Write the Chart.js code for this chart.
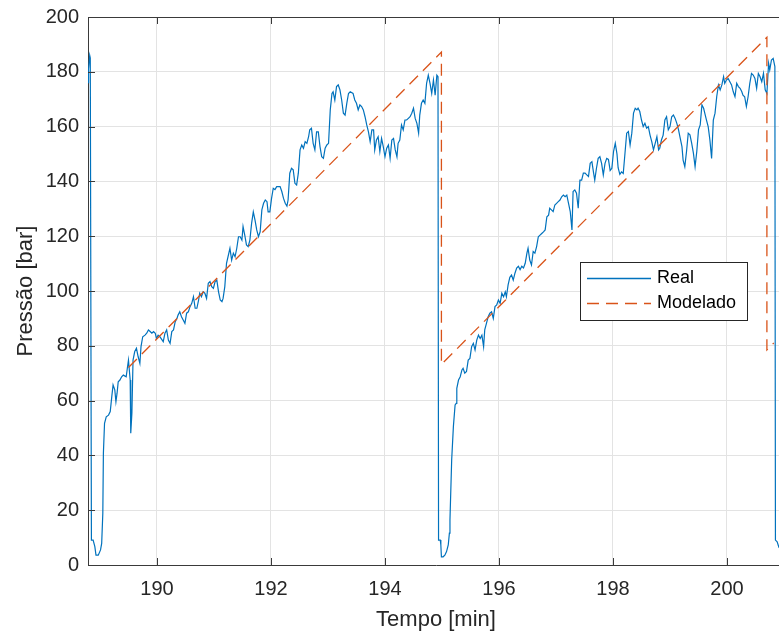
<!DOCTYPE html>
<html>
<head>
<meta charset="utf-8">
<script src="https://cdn.jsdelivr.net/npm/chart.js@4.4.0/dist/chart.umd.min.js"></script>
<style>
html, body { margin: 0; padding: 0; background: #fff; overflow: hidden; }
#wrap { position: relative; width: 790px; height: 633px; }
</style>
</head>
<body>
<div id="wrap"><canvas id="grafico"></canvas></div>
<script>
// medido (Real)
const tempoReal = [
    188.79, 188.80, 188.82, 188.83, 188.85, 188.88, 188.91, 188.93, 188.97, 189.01, 189.03, 189.05, 189.06, 189.08, 189.11,
    189.15, 189.18, 189.21, 189.23, 189.26, 189.28, 189.30, 189.32, 189.35, 189.38, 189.41, 189.46, 189.48, 189.50, 189.53,
    189.54, 189.56, 189.58, 189.61, 189.64, 189.67, 189.70, 189.72, 189.75, 189.79, 189.82, 189.85, 189.88, 189.91, 189.94,
    189.97, 189.99, 190.02, 190.05, 190.11, 190.14, 190.17, 190.20, 190.23, 190.26, 190.29, 190.32, 190.35, 190.37, 190.40,
    190.43, 190.46, 190.49, 190.52, 190.55, 190.58, 190.61, 190.64, 190.67, 190.70, 190.73, 190.75, 190.78, 190.81, 190.84,
    190.87, 190.90, 190.93, 190.96, 190.99, 191.02, 191.05, 191.08, 191.11, 191.14, 191.16, 191.19, 191.22, 191.28, 191.31,
    191.34, 191.37, 191.40, 191.43, 191.46, 191.49, 191.51, 191.54, 191.57, 191.60, 191.63, 191.66, 191.69, 191.72, 191.75,
    191.78, 191.81, 191.84, 191.87, 191.90, 191.93, 191.95, 191.98, 192.01, 192.04, 192.07, 192.10, 192.16, 192.19, 192.22,
    192.25, 192.28, 192.30, 192.33, 192.36, 192.39, 192.42, 192.45, 192.48, 192.51, 192.54, 192.57, 192.60, 192.63, 192.66,
    192.68, 192.71, 192.74, 192.77, 192.80, 192.83, 192.86, 192.89, 192.92, 192.95, 192.98, 193.01, 193.04, 193.07, 193.09,
    193.12, 193.15, 193.18, 193.21, 193.24, 193.27, 193.30, 193.33, 193.36, 193.39, 193.44, 193.47, 193.50, 193.53, 193.56,
    193.59, 193.62, 193.65, 193.68, 193.71, 193.74, 193.77, 193.80, 193.82, 193.85, 193.88, 193.91, 193.94, 193.97, 194.00,
    194.03, 194.06, 194.09, 194.12, 194.15, 194.18, 194.21, 194.23, 194.26, 194.29, 194.32, 194.35, 194.38, 194.41, 194.44,
    194.47, 194.50, 194.53, 194.56, 194.59, 194.61, 194.64, 194.67, 194.70, 194.73, 194.76, 194.79, 194.82, 194.85, 194.88,
    194.91, 194.93, 194.94, 194.97, 194.98, 194.99, 195.02, 195.05, 195.08, 195.11, 195.13, 195.14, 195.17, 195.20, 195.23,
    195.25, 195.26, 195.29, 195.32, 195.35, 195.37, 195.40, 195.43, 195.46, 195.49, 195.52, 195.55, 195.58, 195.61, 195.64,
    195.67, 195.70, 195.73, 195.75, 195.78, 195.81, 195.84, 195.87, 195.90, 195.93, 195.96, 195.99, 196.02, 196.05, 196.08,
    196.11, 196.13, 196.16, 196.19, 196.22, 196.25, 196.28, 196.31, 196.34, 196.37, 196.40, 196.43, 196.46, 196.49, 196.51,
    196.54, 196.57, 196.60, 196.63, 196.66, 196.69, 196.72, 196.75, 196.78, 196.81, 196.84, 196.87, 196.89, 196.92, 196.95,
    196.98, 197.01, 197.04, 197.07, 197.10, 197.13, 197.16, 197.19, 197.22, 197.25, 197.28, 197.30, 197.33, 197.36, 197.39,
    197.42, 197.45, 197.48, 197.51, 197.54, 197.57, 197.60, 197.63, 197.66, 197.68, 197.71, 197.74, 197.77, 197.80, 197.83,
    197.86, 197.89, 197.92, 197.95, 197.98, 198.01, 198.04, 198.07, 198.09, 198.12, 198.15, 198.18, 198.21, 198.24, 198.27,
    198.30, 198.33, 198.36, 198.39, 198.42, 198.44, 198.47, 198.50, 198.53, 198.56, 198.59, 198.62, 198.65, 198.68, 198.71,
    198.74, 198.77, 198.80, 198.82, 198.85, 198.88, 198.91, 198.94, 198.97, 199.00, 199.03, 199.06, 199.09, 199.12, 199.15,
    199.18, 199.21, 199.23, 199.26, 199.29, 199.32, 199.35, 199.38, 199.41, 199.44, 199.47, 199.50, 199.53, 199.56, 199.59,
    199.61, 199.64, 199.67, 199.70, 199.73, 199.76, 199.79, 199.82, 199.85, 199.88, 199.91, 199.94, 199.96, 199.99, 200.02,
    200.05, 200.08, 200.11, 200.14, 200.17, 200.20, 200.23, 200.26, 200.28, 200.31, 200.34, 200.37, 200.40, 200.43, 200.46,
    200.49, 200.52, 200.55, 200.58, 200.61, 200.64, 200.67, 200.70, 200.73, 200.75, 200.78, 200.81, 200.84, 200.85, 200.88,
    200.91, 200.95
];
const pressaoReal = [
    176, 181, 186, 185, 9.1, 9.1, 6.7, 3.6, 3.6, 5.5, 7.9, 18.9, 40.8, 51.7, 54.1,
    54.7, 56, 62, 65.7, 63.9, 59.6, 62.7, 66.9, 67.5, 68.7, 69.3, 68.7, 71.8, 74.8, 67.5,
    48.1, 55.4, 74.8, 77.9, 79.1, 76, 73.6, 79.7, 83.3, 83.9, 84.6, 85.8, 85.2, 84.6, 85.2,
    84.6, 82.7, 83.9, 83.3, 81.5, 84.6, 85.8, 82.1, 80.9, 85.2, 85.8, 88.8, 90, 91.2, 92.4,
    90.6, 89.4, 88.2, 91.9, 92.4, 94.3, 95.5, 97.9, 93.7, 93.7, 96.7, 99.2, 97.9, 99.7, 99.2,
    97.3, 102.8, 103.4, 101.6, 101, 103.4, 104, 99.7, 96.7, 96.1, 97.3, 101.6, 110.1, 115.6, 111.3,
    113.8, 112.5, 115.6, 119.8, 119.8, 118.6, 123.5, 120.4, 116.8, 116.2, 118.6, 124.7, 128.9, 125.9, 122.3,
    119.8, 121.6, 129.6, 132, 133.2, 132.6, 128.9, 128.9, 133.8, 137.5, 137, 138.1, 138.1, 136.3, 133.8,
    132, 131, 133.2, 143, 144.8, 144.2, 139.3, 138.7, 143, 151.5, 153.3, 152.1, 154.5, 153.9, 156.3,
    158.8, 159.4, 153.9, 151.5, 158.1, 158.1, 152.7, 149, 148.4, 152.1, 153.3, 153.9, 166.1, 172.1, 172.7,
    169.7, 174.6, 175.2, 173.4, 169.7, 164.9, 164.2, 168.5, 172.1, 172.7, 172.1, 169.7, 168.5, 166.1, 167.9,
    167.3, 166.1, 163.6, 160.6, 158.1, 154.5, 158.8, 158.8, 151.5, 155.1, 156.3, 150.9, 155.7, 152.7, 149,
    152.1, 153.3, 148.4, 155.1, 155.7, 151.5, 149, 153.9, 155.1, 160.6, 158.8, 162.4, 162.4, 163, 163.6,
    164.9, 166.7, 163, 161.2, 157.6, 164.2, 168.5, 169.7, 168.5, 175.8, 178.8, 175.8, 172.1, 177, 171.5,
    178.8, 178.2, 9.1, 9.1, 7.3, 3.0, 3.0, 3.6, 4.9, 7.3, 11.6, 16.4, 38.3, 50.5, 58.4,
    59, 64.5, 67.5, 68.7, 71.2, 71.8, 70, 70.6, 74.8, 75.4, 79.7, 80.9, 78.5, 82.1, 83.9,
    82.7, 83.9, 79.7, 85.8, 88.2, 90.6, 91.9, 92.4, 90, 94.3, 94.9, 96.7, 95.5, 99.2, 97.9,
    99.7, 97.9, 102.2, 105, 105.8, 104, 106.5, 108.4, 109, 107.8, 109, 108.4, 110.1, 113.8, 115.6,
    111.3, 109.5, 114.4, 113.8, 116.2, 119.8, 120.4, 121, 121.6, 122.3, 127.1, 127.7, 130.2, 129.6, 129,
    131.4, 132, 132.6, 133.2, 134.4, 135, 134.4, 135, 132, 129, 122.3, 136.3, 136.9, 135.7, 130.2,
    140.5, 140.5, 143, 143, 142.4, 141.8, 146.6, 147.2, 143, 140.5, 144.8, 148.4, 149, 146.6, 142.4,
    146.6, 148.4, 148, 144, 144.8, 151, 153.9, 150, 145, 142.6, 143.5, 142.9, 150.2, 157.6, 158.2,
    153.3, 157.6, 164.9, 166.7, 166.1, 166.7, 165.5, 162.4, 160, 161.2, 159.4, 160, 156.9, 154.5, 151.5,
    153.9, 156.3, 151.5, 152.1, 155.1, 156.9, 162.4, 163.6, 158.8, 160, 163.6, 164.2, 163, 161.2, 158.8,
    155.7, 152.7, 147.8, 145.4, 150.9, 157.6, 157, 154, 150.4, 145.4, 150.9, 158.8, 160.6, 167.9, 166.7,
    164.9, 162.4, 160, 155.1, 148.4, 162.4, 164.9, 171, 175.2, 173.4, 175.2, 178.2, 175.8, 177, 177.6,
    176.4, 175.2, 172.7, 170.9, 175.8, 174.6, 174, 172.7, 171.5, 170.9, 167.3, 170.9, 175.8, 179.4, 178.8,
    177.6, 174, 179.4, 178.2, 176.4, 179.4, 173.4, 172.1, 183.1, 180.7, 184.3, 184.9, 181.9, 9.1, 8.5,
    6.5, 5.5
];

// modelo (Modelado)
const tempoModelo = [189.50, 194.99, 194.99, 200.70, 200.70, 200.82];
const pressaoModelo = [72.1, 187.2, 73.2, 192.6, 78.5, 81.0];

const marcasTempo = [190, 192, 194, 196, 198, 200];
const marcasPressao = [0, 20, 40, 60, 80, 100, 120, 140, 160, 180, 200];

const corTexto = '#262626';
const corGrade = '#e3e3e3';
const corEixo = '#3a3a3a';

Chart.defaults.font.family = '"Liberation Sans", Arial, Helvetica, sans-serif';
Chart.defaults.color = corTexto;

function pares(xs, ys) {
    return xs.map((x, i) => ({ x: x, y: ys[i] }));
}

// caixa estilo MATLAB: borda superior, marcas para dentro e legenda
const moldura = {
    id: 'moldura',
    afterDatasetsDraw(chart) {
        let ctx = chart.ctx;
        let a = chart.chartArea;
        let sx = chart.scales.x, sy = chart.scales.y;
        let tam = 7;

        ctx.save();
        ctx.strokeStyle = corEixo;
        ctx.lineWidth = 1;
        ctx.beginPath();
        ctx.moveTo(a.left, a.top + 0.5);
        ctx.lineTo(a.right, a.top + 0.5);
        marcasTempo.forEach(v => {
            let px = Math.round(sx.getPixelForValue(v)) + 0.5;
            ctx.moveTo(px, a.bottom);
            ctx.lineTo(px, a.bottom - tam);
            ctx.moveTo(px, a.top);
            ctx.lineTo(px, a.top + tam);
        });
        marcasPressao.forEach(v => {
            let py = Math.round(sy.getPixelForValue(v)) + 0.5;
            ctx.moveTo(a.left, py);
            ctx.lineTo(a.left + tam, py);
        });
        ctx.stroke();
        ctx.restore();

        desenharLegenda(chart);
    }
};

function desenharLegenda(chart) {
    let ctx = chart.ctx;
    let x = 580.5, y = 262.5, w = 167, h = 58;

    ctx.save();
    ctx.fillStyle = '#fff';
    ctx.fillRect(x, y, w, h);
    ctx.strokeStyle = corTexto;
    ctx.lineWidth = 1;
    ctx.strokeRect(x, y, w, h);

    chart.data.datasets.forEach((ds, i) => {
        let ly = 278.5 + i * 25;
        ctx.strokeStyle = ds.borderColor;
        ctx.lineWidth = 1.3;
        ctx.setLineDash(ds.borderDash || []);
        ctx.beginPath();
        ctx.moveTo(587, ly);
        ctx.lineTo(651, ly);
        ctx.stroke();
        ctx.setLineDash([]);

        ctx.fillStyle = '#000';
        ctx.font = '18px "Liberation Sans", Arial, sans-serif';
        ctx.textBaseline = 'middle';
        ctx.textAlign = 'left';
        ctx.fillText(ds.label, 657, ly);
    });
    ctx.restore();
}

new Chart(document.getElementById('grafico'), {
    type: 'line',
    data: {
        datasets: [
            {
                label: 'Real',
                data: pares(tempoReal, pressaoReal),
                borderColor: '#0072BD',
                borderWidth: 1.2,
                pointRadius: 0,
                tension: 0,
                order: 1
            },
            {
                label: 'Modelado',
                data: pares(tempoModelo, pressaoModelo),
                borderColor: '#D95319',
                borderWidth: 1.3,
                borderDash: [12, 7],
                pointRadius: 0,
                tension: 0,
                order: 0
            }
        ]
    },
    options: {
        responsive: true,
        maintainAspectRatio: false,
        animation: false,
        layout: { padding: { top: 17, right: 6, left: 0, bottom: 0 } },
        plugins: {
            legend: { display: false },
            tooltip: { enabled: false }
        },
        scales: {
            x: {
                type: 'linear',
                min: 188.79,
                max: 201.0,
                afterBuildTicks: s => { s.ticks = marcasTempo.map(v => ({ value: v })); },
                afterFit: s => { s.height = 68; s.paddingLeft = 0; s.paddingRight = 0; },
                ticks: { font: { size: 20 }, color: corTexto, padding: 12, maxRotation: 0 },
                grid: { color: corGrade, drawTicks: false },
                border: { color: corEixo, width: 1 },
                title: {
                    display: true,
                    text: 'Tempo [min]',
                    font: { size: 22 },
                    color: corTexto,
                    padding: { top: 0, bottom: 0 }
                }
            },
            y: {
                min: 0,
                max: 200,
                afterBuildTicks: s => { s.ticks = marcasPressao.map(v => ({ value: v })); },
                afterFit: s => { s.width = 88; s.paddingTop = 0; s.paddingBottom = 0; },
                ticks: { font: { size: 20 }, color: corTexto, padding: 9 },
                grid: { color: corGrade, drawTicks: false },
                border: { color: corEixo, width: 1 },
                title: {
                    display: true,
                    text: 'Pressão [bar]',
                    font: { size: 22 },
                    color: corTexto,
                    padding: { top: 13, bottom: 0 }
                }
            }
        }
    },
    plugins: [moldura]
});
</script>
</body>
</html>
